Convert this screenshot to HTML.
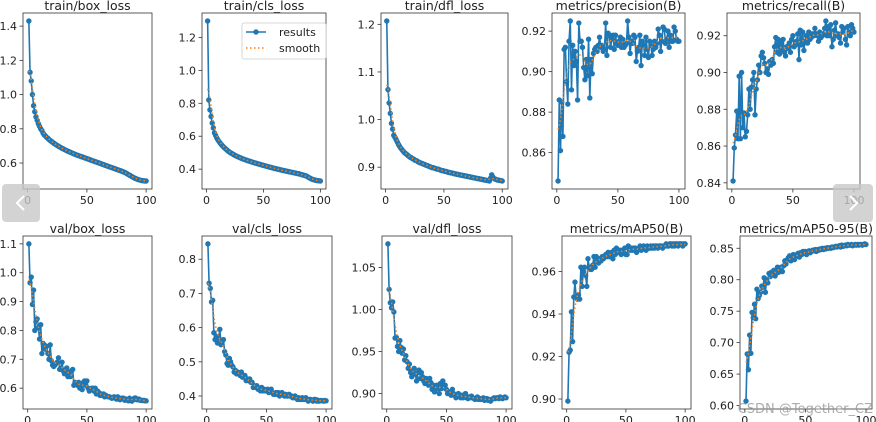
<!DOCTYPE html>
<html><head><meta charset="utf-8"><style>
html,body{margin:0;padding:0;background:#fff;width:876px;height:422px;overflow:hidden;}
svg{display:block;font-family:"DejaVu Sans","Liberation Sans",sans-serif;}
</style></head><body>
<svg id="fig" width="876" height="422" viewBox="0 0 876 422"></svg>
<script>
const epochs = Array.from({length:100},(_,i)=>i+1);
const xTicks = [0,50,100];
const titles = ["train/box_loss","train/cls_loss","train/dfl_loss","metrics/precision(B)","metrics/recall(B)","val/box_loss","val/cls_loss","val/dfl_loss","metrics/mAP50(B)","metrics/mAP50-95(B)"];
const trainBox = [1.43,1.13,1.08,1.00,0.935,0.90,0.87,0.85,0.83,0.815,0.80,0.79,0.775,0.765,0.758,0.75,0.745,0.738,0.732,0.727,0.722,0.716,0.712,0.707,0.703,0.698,0.694,0.69,0.686,0.683,0.679,0.676,0.672,0.669,0.666,0.663,0.66,0.657,0.654,0.651,0.648,0.646,0.643,0.641,0.638,0.636,0.633,0.631,0.628,0.626,0.623,0.621,0.618,0.616,0.613,0.611,0.608,0.606,0.603,0.601,0.598,0.596,0.593,0.591,0.588,0.586,0.583,0.581,0.578,0.576,0.573,0.571,0.568,0.566,0.563,0.561,0.558,0.556,0.554,0.551,0.548,0.545,0.541,0.537,0.533,0.529,0.525,0.521,0.517,0.513,0.51,0.507,0.504,0.502,0.50,0.498,0.497,0.496,0.495,0.495];
const trainCls = [1.30,0.82,0.76,0.72,0.68,0.65,0.62,0.605,0.59,0.578,0.568,0.558,0.55,0.542,0.535,0.528,0.522,0.516,0.51,0.505,0.50,0.496,0.492,0.488,0.484,0.48,0.477,0.474,0.471,0.468,0.465,0.462,0.46,0.457,0.455,0.452,0.45,0.448,0.446,0.443,0.441,0.439,0.437,0.435,0.433,0.431,0.429,0.427,0.425,0.423,0.421,0.419,0.417,0.415,0.413,0.411,0.41,0.408,0.406,0.404,0.403,0.401,0.399,0.398,0.396,0.394,0.393,0.391,0.39,0.388,0.387,0.385,0.384,0.382,0.381,0.379,0.378,0.376,0.375,0.373,0.372,0.37,0.368,0.366,0.364,0.362,0.36,0.357,0.353,0.349,0.345,0.341,0.338,0.336,0.334,0.332,0.331,0.33,0.329,0.328];
const trainDfl = [1.207,1.063,1.035,1.013,0.992,0.98,0.967,0.963,0.958,0.953,0.948,0.944,0.94,0.937,0.934,0.931,0.929,0.927,0.925,0.923,0.921,0.92,0.918,0.917,0.915,0.914,0.913,0.911,0.91,0.909,0.908,0.907,0.906,0.905,0.904,0.903,0.902,0.901,0.9,0.899,0.899,0.898,0.897,0.896,0.896,0.895,0.894,0.893,0.893,0.892,0.891,0.891,0.89,0.889,0.889,0.888,0.888,0.887,0.886,0.886,0.885,0.885,0.884,0.884,0.883,0.883,0.882,0.882,0.881,0.881,0.88,0.88,0.879,0.879,0.878,0.878,0.877,0.877,0.876,0.876,0.875,0.875,0.874,0.874,0.873,0.873,0.872,0.872,0.871,0.877,0.884,0.879,0.876,0.875,0.874,0.873,0.873,0.872,0.872,0.871];
const precision = [0.846,0.886,0.861,0.885,0.868,0.911,0.912,0.895,0.884,0.915,0.925,0.891,0.913,0.903,0.91,0.905,0.886,0.924,0.915,0.915,0.912,0.902,0.896,0.906,0.898,0.916,0.887,0.906,0.899,0.909,0.911,0.912,0.91,0.913,0.917,0.912,0.913,0.91,0.911,0.924,0.908,0.919,0.918,0.912,0.916,0.918,0.911,0.918,0.914,0.913,0.915,0.917,0.912,0.916,0.912,0.913,0.914,0.925,0.917,0.909,0.915,0.914,0.918,0.917,0.905,0.91,0.912,0.918,0.903,0.915,0.913,0.908,0.917,0.911,0.907,0.915,0.913,0.908,0.911,0.915,0.912,0.914,0.921,0.918,0.91,0.915,0.922,0.921,0.914,0.916,0.92,0.912,0.918,0.915,0.915,0.922,0.92,0.916,0.915,0.915];
const recall = [0.841,0.859,0.866,0.879,0.864,0.898,0.864,0.9,0.87,0.878,0.865,0.868,0.877,0.891,0.88,0.892,0.896,0.9,0.877,0.891,0.896,0.904,0.9,0.909,0.911,0.908,0.905,0.9,0.902,0.899,0.906,0.904,0.907,0.905,0.914,0.919,0.911,0.918,0.91,0.916,0.912,0.918,0.911,0.909,0.914,0.913,0.916,0.911,0.918,0.92,0.914,0.915,0.917,0.921,0.907,0.923,0.915,0.922,0.912,0.917,0.92,0.916,0.922,0.918,0.919,0.921,0.92,0.924,0.921,0.92,0.917,0.922,0.919,0.92,0.921,0.924,0.928,0.92,0.925,0.92,0.926,0.914,0.918,0.923,0.927,0.92,0.921,0.919,0.916,0.925,0.922,0.924,0.918,0.915,0.925,0.922,0.92,0.926,0.924,0.922];
const valBox = [1.10,0.965,0.985,0.89,0.94,0.80,0.83,0.84,0.81,0.77,0.82,0.72,0.755,0.75,0.735,0.745,0.72,0.70,0.75,0.695,0.68,0.675,0.68,0.685,0.69,0.705,0.665,0.67,0.69,0.66,0.65,0.665,0.67,0.64,0.655,0.64,0.66,0.665,0.61,0.62,0.615,0.61,0.62,0.6,0.605,0.595,0.62,0.625,0.61,0.625,0.6,0.59,0.595,0.6,0.6,0.59,0.6,0.58,0.59,0.585,0.575,0.58,0.575,0.58,0.57,0.575,0.572,0.57,0.57,0.568,0.565,0.568,0.57,0.565,0.562,0.57,0.565,0.56,0.565,0.565,0.565,0.558,0.562,0.56,0.556,0.565,0.56,0.555,0.56,0.565,0.566,0.56,0.56,0.562,0.558,0.558,0.557,0.558,0.556,0.556];
const valCls = [0.845,0.73,0.715,0.675,0.68,0.585,0.565,0.575,0.555,0.57,0.595,0.55,0.56,0.565,0.53,0.52,0.495,0.49,0.51,0.5,0.49,0.485,0.47,0.475,0.465,0.47,0.465,0.46,0.47,0.455,0.46,0.46,0.445,0.45,0.445,0.45,0.44,0.44,0.425,0.43,0.425,0.43,0.42,0.42,0.415,0.425,0.415,0.42,0.415,0.415,0.42,0.41,0.415,0.42,0.41,0.405,0.405,0.41,0.405,0.41,0.4,0.405,0.41,0.405,0.4,0.405,0.4,0.4,0.405,0.4,0.4,0.395,0.395,0.4,0.395,0.39,0.395,0.39,0.39,0.395,0.39,0.39,0.395,0.39,0.385,0.39,0.39,0.388,0.385,0.39,0.39,0.385,0.388,0.385,0.386,0.387,0.386,0.385,0.387,0.386];
const valDfl = [1.078,1.024,1.008,1.002,1.009,0.997,0.966,0.967,0.956,0.95,0.963,0.955,0.948,0.953,0.94,0.945,0.938,0.93,0.935,0.925,0.92,0.927,0.93,0.923,0.915,0.925,0.928,0.918,0.925,0.92,0.915,0.912,0.918,0.912,0.91,0.918,0.913,0.905,0.91,0.902,0.905,0.91,0.907,0.9,0.912,0.906,0.915,0.907,0.91,0.905,0.9,0.902,0.9,0.898,0.905,0.9,0.898,0.895,0.898,0.9,0.897,0.895,0.898,0.895,0.897,0.9,0.895,0.894,0.896,0.895,0.897,0.895,0.894,0.893,0.895,0.896,0.893,0.894,0.893,0.894,0.895,0.892,0.893,0.894,0.892,0.893,0.891,0.893,0.894,0.895,0.894,0.895,0.895,0.894,0.896,0.895,0.894,0.895,0.896,0.895];
const map50 = [0.899,0.922,0.923,0.941,0.927,0.948,0.955,0.948,0.947,0.949,0.947,0.962,0.953,0.96,0.962,0.958,0.953,0.966,0.962,0.961,0.961,0.963,0.967,0.962,0.967,0.966,0.964,0.966,0.965,0.967,0.966,0.967,0.968,0.967,0.969,0.967,0.968,0.969,0.966,0.97,0.968,0.971,0.969,0.97,0.97,0.968,0.97,0.969,0.971,0.968,0.968,0.972,0.971,0.97,0.971,0.97,0.971,0.971,0.969,0.97,0.971,0.972,0.97,0.971,0.972,0.971,0.97,0.972,0.971,0.971,0.972,0.971,0.972,0.971,0.972,0.972,0.971,0.972,0.972,0.972,0.971,0.972,0.972,0.973,0.972,0.972,0.973,0.973,0.972,0.973,0.972,0.973,0.973,0.972,0.973,0.973,0.973,0.972,0.973,0.973];
const map5095 = [0.607,0.682,0.657,0.712,0.683,0.748,0.74,0.761,0.738,0.785,0.77,0.775,0.78,0.79,0.788,0.803,0.78,0.8,0.795,0.81,0.805,0.812,0.808,0.815,0.806,0.81,0.82,0.812,0.818,0.82,0.813,0.822,0.83,0.825,0.832,0.835,0.838,0.83,0.835,0.84,0.832,0.838,0.84,0.842,0.836,0.843,0.84,0.845,0.842,0.845,0.84,0.844,0.846,0.843,0.845,0.847,0.846,0.848,0.845,0.848,0.847,0.849,0.848,0.85,0.848,0.85,0.849,0.851,0.85,0.851,0.85,0.852,0.851,0.852,0.853,0.852,0.853,0.854,0.852,0.855,0.853,0.854,0.855,0.854,0.856,0.855,0.855,0.856,0.854,0.855,0.856,0.855,0.856,0.855,0.856,0.856,0.855,0.856,0.857,0.856];
const yTicks = [
 [0.6,0.8,1.0,1.2,1.4],[0.4,0.6,0.8,1.0,1.2],[0.9,1.0,1.1,1.2],[0.86,0.88,0.90,0.92],[0.84,0.86,0.88,0.90,0.92],
 [0.6,0.7,0.8,0.9,1.0,1.1],[0.4,0.5,0.6,0.7,0.8],[0.90,0.95,1.00,1.05],[0.90,0.92,0.94,0.96],[0.60,0.65,0.70,0.75,0.80,0.85]];
const yTickLabels = [
 ["0.6","0.8","1.0","1.2","1.4"],["0.4","0.6","0.8","1.0","1.2"],["0.9","1.0","1.1","1.2"],["0.86","0.88","0.90","0.92"],["0.84","0.86","0.88","0.90","0.92"],
 ["0.6","0.7","0.8","0.9","1.0","1.1"],["0.4","0.5","0.6","0.7","0.8"],["0.90","0.95","1.00","1.05"],["0.90","0.92","0.94","0.96"],["0.60","0.65","0.70","0.75","0.80","0.85"]];
const series = [trainBox,trainCls,trainDfl,precision,recall,valBox,valCls,valDfl,map50,map5095];
const boxes = [[23,13,152,189],[202,13,326,189],[381,13,508,189],[552,13,685,189],[727,13,860,189],
 [23,236,152,409],[202,236,332,409],[382,236,512,409],[562,236,691,409],[740,236,872,409]];
const NS="http://www.w3.org/2000/svg";
const fig=document.getElementById('fig');
function mk(tag,attrs,parent){const e=document.createElementNS(NS,tag);for(const k in attrs)e.setAttribute(k,attrs[k]);(parent||fig).appendChild(e);return e;}
function smooth(y,s){const r=Math.ceil(4*s);const out=[];for(let i=0;i<y.length;i++){let a=0,w=0;for(let k=-r;k<=r;k++){let j=i+k;if(j<0)j=-j-1;if(j>=y.length)j=2*y.length-j-1;const g=Math.exp(-k*k/(2*s*s));a+=g*y[j];w+=g;}out.push(a/w);}return out;}
series.forEach((ys,idx)=>{
  const [L,T,R,B]=boxes[idx];
  const g=mk('g',{});
  
  
  const xmin=1,xmax=100,xm=(xmax-xmin)*0.05;
  const ymn=Math.min(...ys),ymx=Math.max(...ys),ym=(ymx-ymn)*0.05;
  const sx=v=>L+(v-(xmin-xm))/((xmax+xm)-(xmin-xm))*(R-L);
  const sy=v=>B-(v-(ymn-ym))/((ymx+ym)-(ymn-ym))*(B-T);
  const t=mk('text',{x:(L+R)/2,y:T-3,'text-anchor':'middle','font-size':'12.5',fill:'#222'},g);t.textContent=titles[idx];
  
  xTicks.forEach(v=>{const x=sx(v);mk('line',{x1:x,x2:x,y1:B,y2:B+3.5,stroke:'#333','stroke-width':0.8},g);
    const tx=mk('text',{x:x,y:B+15,'text-anchor':'middle','font-size':'11',fill:'#222'},g);tx.textContent=v;
    });
  yTicks[idx].forEach((v,k)=>{const y=sy(v);if(y<T-1||y>B+1)return;mk('line',{x1:L-3.5,x2:L,y1:y,y2:y,stroke:'#333','stroke-width':0.8},g);
    const ty=mk('text',{x:L-6,y:y+4,'text-anchor':'end','font-size':'11',fill:'#222'},g);ty.textContent=yTickLabels[idx][k];
    });
  const cp='c'+idx;const cl=mk('clipPath',{id:cp},g);mk('rect',{x:L-3,y:T-3,width:R-L+6,height:B-T+6},cl);
  const pg=mk('g',{'clip-path':'url(#'+cp+')'},g);
  const pts=ys.map((v,i)=>sx(epochs[i]).toFixed(2)+','+sy(v).toFixed(2)).join(' ');
  const pl=mk('polyline',{points:pts,fill:'none',stroke:'#1f77b4','stroke-width':1.6},pg);
  
  ys.forEach((v,i)=>{const c=mk('circle',{cx:sx(epochs[i]),cy:sy(v),r:2.7,fill:'#1f77b4'},pg);
    });
  const sm=smooth(ys,3);
  const sl=mk('polyline',{points:sm.map((v,i)=>sx(epochs[i]).toFixed(2)+','+sy(v).toFixed(2)).join(' '),fill:'none',stroke:'#ff7f0e','stroke-width':1.5,'stroke-dasharray':'1.5,2.5'},pg);
  
  const fr=mk('rect',{x:L,y:T,width:R-L,height:B-T,fill:'none',stroke:'#333','stroke-width':0.8},g);
  
});
const lg=mk('g',{});

mk('rect',{x:242,y:23,width:84,height:36,rx:2,fill:'#fff',stroke:'#ccc','stroke-width':0.8},lg);
mk('line',{x1:246,x2:266,y1:32,y2:32,stroke:'#1f77b4','stroke-width':1.5},lg);
mk('circle',{cx:256,cy:32,r:2.7,fill:'#1f77b4'},lg);
const l1=mk('text',{x:279,y:36,'font-size':'11',fill:'#222'},lg);l1.textContent='results';

mk('line',{x1:246,x2:266,y1:48,y2:48,stroke:'#ff7f0e','stroke-width':1.5,'stroke-dasharray':'1.5,2.5'},lg);
const l2=mk('text',{x:279,y:52,'font-size':'11',fill:'#222'},lg);l2.textContent='smooth';

const pb=mk('g',{});
mk('rect',{x:2,y:184,width:38,height:38,rx:4,fill:'#c8c8c8','fill-opacity':0.8},pb);
mk('polyline',{points:'24,196 17,203 24,210',fill:'none',stroke:'#fff','stroke-width':2},pb);
const nb=mk('g',{});
mk('rect',{x:833,y:184,width:40,height:38,rx:4,fill:'#c8c8c8','fill-opacity':0.8},nb);
mk('polyline',{points:'850,196 857,203 850,210',fill:'none',stroke:'#fff','stroke-width':2},nb);
const wm=mk('text',{x:873,y:413,'text-anchor':'end','font-size':'13',fill:'#999','fill-opacity':0.8},fig);
wm.textContent='CSDN @Together_CZ';

</script>
</body></html>
